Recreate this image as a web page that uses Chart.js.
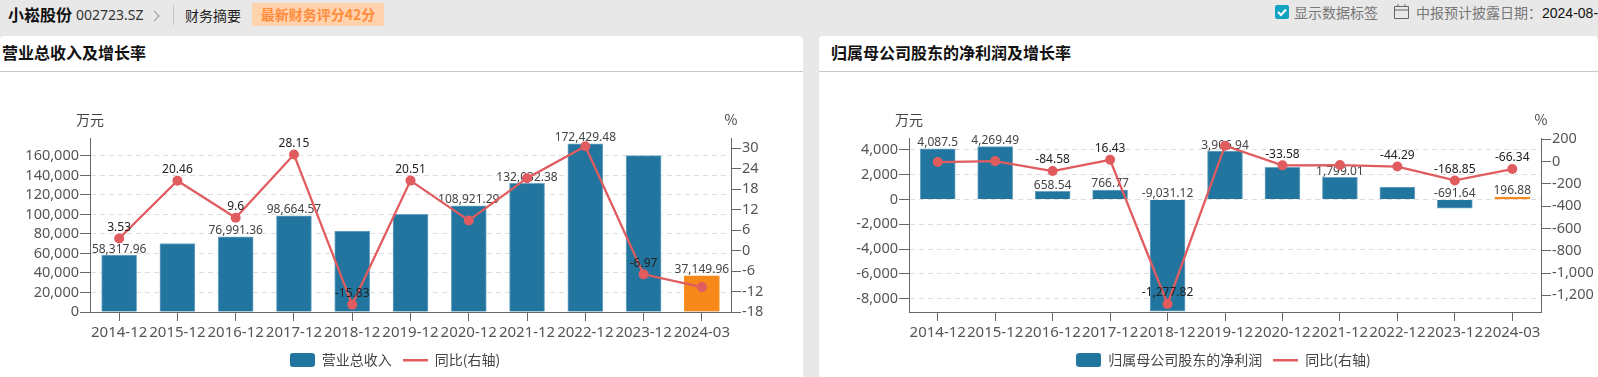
<!DOCTYPE html>
<html lang="zh">
<head>
<meta charset="utf-8">
<title>财务摘要</title>
<script src="https://cdn.jsdelivr.net/npm/chart.js@4/dist/chart.umd.min.js"></script>
<style>
html, body { margin: 0; padding: 0; width: 1598px; height: 377px; overflow: hidden; background: #e8e8e8; }
body { font-family: "Noto Sans CJK SC", "Noto Sans", sans-serif; position: relative; color: #333; }
.abs { position: absolute; white-space: nowrap; line-height: 20px; }
.card { position: absolute; top: 36px; height: 341px; background: #fff; border-radius: 4px 4px 0 0; }
.card .head { position: absolute; left: 0; right: 0; top: 0; height: 35px; border-bottom: 1px solid #c8c8c8; }
.card .title { position: absolute; top: 5px; font-size: 16px; font-weight: bold; color: #111; line-height: 22px; white-space: nowrap; }
canvas { position: absolute; top: 72px; }
</style>
</head>
<body>
<div class="abs" style="left:8px;top:4px;font-size:16px;font-weight:bold;color:#111">小崧股份</div>
<div class="abs" style="left:76px;top:5px;font-size:14px;font-family:'Noto Sans';color:#333">002723.SZ</div>
<svg class="abs" style="left:153px;top:10px" width="8" height="12"><path d="M1 1 L6 6 L1 11" fill="none" stroke="#aaa" stroke-width="1.3"/></svg>
<div class="abs" style="left:173px;top:5px;width:1px;height:20px;background:#c4c4c4"></div>
<div class="abs" style="left:185px;top:5px;font-size:14px;color:#222">财务摘要</div>
<div class="abs" style="left:252px;top:3px;width:132px;height:23px;line-height:23px;background:#ffd3ae;color:#ff8c3c;font-size:14px;font-weight:bold;text-align:center">最新财务评分42分</div>
<svg class="abs" style="left:1275px;top:5px" width="14" height="14"><rect width="14" height="14" rx="2" fill="#12a3c2"/><path d="M3 7 L6 10 L11 4.5" fill="none" stroke="#fff" stroke-width="2"/></svg>
<div class="abs" style="left:1294px;top:2px;font-size:14px;color:#777">显示数据标签</div>
<svg class="abs" style="left:1394px;top:4px" width="15" height="15"><path d="M0.5 2.5 H14.5 V14.5 H0.5 Z M0.5 6 H14.5" fill="none" stroke="#666"/><path d="M4 0 V3 M11 0 V3" stroke="#666"/></svg>
<div class="abs" style="left:1416px;top:2px;font-size:14px;color:#777">中报预计披露日期：</div>
<div class="abs" style="left:1542px;top:3px;font-size:14px;font-family:'Liberation Sans';color:#111">2024-08-</div>

<div class="card" style="left:0;width:803px"><div class="head"></div><div class="title" style="left:2px">营业总收入及增长率</div></div>
<div class="card" style="left:819px;width:779px"><div class="head"></div><div class="title" style="left:12px">归属母公司股东的净利润及增长率</div></div>

<canvas id="revenueChart" style="left:0;width:790px;height:305px"></canvas>
<canvas id="profitChart" style="left:849px;width:749px;height:305px"></canvas>

<script>
const categories = ['2014-12', '2015-12', '2016-12', '2017-12', '2018-12', '2019-12', '2020-12', '2021-12', '2022-12', '2023-12', '2024-03'];

const revenueValues = [58317.96, 70246, 76991.36, 98664.57, 83045, 100078, 108921.29, 132032.38, 172429.48, 160411, 37149.96];
const revenueGrowth = [3.53, 20.46, 9.6, 28.15, -15.83, 20.51, 8.84, 21.22, 30.6, -6.97, -10.7];
const revenueTicks = [0, 20000, 40000, 60000, 80000, 100000, 120000, 140000, 160000];
const revenueGrowthTicks = [-18, -12, -6, 0, 6, 12, 18, 24, 30];
// etiquetas que el original deja visibles (las demas las oculta por solape)
const revenueBarLabels = [0, 2, 3, 6, 7, 8, 10];
const revenueLineLabels = [0, 1, 2, 3, 4, 5, 9];

const profitValues = [4087.5, 4269.49, 658.54, 766.77, -9031.12, 3906.94, 2595, 1799.01, 1002, -691.64, 196.88];
const profitGrowth = [-4, 4.45, -84.58, 16.43, -1277.82, 143, -33.58, -31, -44.29, -168.85, -66.34];
const profitTicks = [-8000, -6000, -4000, -2000, 0, 2000, 4000];
const profitGrowthTicks = [-1200, -1000, -800, -600, -400, -200, 0, 200];
const profitBarLabels = [0, 1, 2, 3, 4, 5, 7, 9, 10];
const profitLineLabels = [2, 3, 4, 6, 8, 9, 10];

const BLUE = '#21759f';
const ORANGE = '#f7891a';
const RED = '#e05c5f';
const FONT = '"Noto Sans", "Noto Sans CJK SC", sans-serif';

function formatNumber(v) {
    return v.toLocaleString('en-US', { maximumFractionDigits: 2 });
}

// muestra de leyenda: el punto de la leyenda acepta un canvas
function legendSwatch(kind) {
    const c = document.createElement('canvas');
    c.width = 25;
    c.height = 14;
    const g = c.getContext('2d');
    if (kind === 'bar') {
        g.fillStyle = BLUE;
        g.beginPath();
        g.roundRect(0, 0, 25, 14, 3);
        g.fill();
    } else {
        g.fillStyle = RED;
        g.fillRect(0, 6, 25, 2.5);
    }
    return c;
}

function makeChart(id, cfg) {
    const labelsPlugin = {
        id: 'valueLabels',
        afterDatasetDraw(chart, args) {
            const ctx = chart.ctx;
            const shown = args.index === 0 ? cfg.barLabels : cfg.lineLabels;
            const data = chart.data.datasets[args.index].data;
            const meta = chart.getDatasetMeta(args.index);
            ctx.save();
            ctx.font = '12px ' + FONT;
            ctx.fillStyle = args.index === 0 ? '#444' : '#222';
            ctx.textAlign = 'center';
            ctx.textBaseline = 'middle';
            shown.forEach(i => {
                const el = meta.data[i];
                let y = el.y - 11;
                if (args.index === 0) {
                    y = Math.min(el.y, el.base) - 6;
                }
                ctx.fillText(formatNumber(data[i]), el.x, y);
            });
            ctx.restore();
        }
    };

    const unitsPlugin = {
        id: 'unitTitles',
        afterDraw(chart) {
            const ctx = chart.ctx;
            ctx.save();
            ctx.font = '14px "Noto Sans CJK SC"';
            ctx.fillStyle = '#444';
            ctx.textBaseline = 'middle';
            ctx.textAlign = 'center';
            ctx.fillText('万元', chart.chartArea.left, chart.chartArea.top - 18);
            ctx.fillText('%', chart.chartArea.right, chart.chartArea.top - 18);
            ctx.restore();
        }
    };

    return new Chart(document.getElementById(id), {
        type: 'bar',
        data: {
            labels: categories,
            datasets: [
                {
                    type: 'bar',
                    label: cfg.barName,
                    data: cfg.bars,
                    yAxisID: 'y',
                    order: 2,
                    barThickness: 35,
                    backgroundColor: c => c.dataIndex === categories.length - 1 ? ORANGE : BLUE,
                    borderColor: c => c.dataIndex === categories.length - 1 ? ORANGE : '#6fa6c4',
                    borderWidth: 1
                },
                {
                    type: 'line',
                    label: '同比(右轴)',
                    data: cfg.line,
                    yAxisID: 'y1',
                    order: 1,
                    borderColor: RED,
                    backgroundColor: RED,
                    borderWidth: 2.3,
                    tension: 0,
                    pointRadius: 5,
                    pointBackgroundColor: RED,
                    pointBorderWidth: 0,
                    pointStyle: 'circle'
                }
            ]
        },
        options: {
            responsive: false,
            animation: false,
            layout: { padding: { top: 66, bottom: 0, left: 0, right: 0 } },
            scales: {
                x: {
                    offset: true,
                    grid: { offset: false, drawOnChartArea: false, tickLength: 9, tickColor: '#666' },
                    border: { color: '#666' },
                    ticks: { font: { size: 15, family: FONT }, color: '#555', padding: 3, maxRotation: 0, autoSkip: false },
                    afterFit(scale) { scale.height = 30; }
                },
                y: {
                    position: 'left',
                    min: cfg.yMin,
                    max: cfg.yMax,
                    grid: { color: '#ddd', tickLength: 10, tickColor: '#666' },
                    border: { color: '#666', dash: [5, 4] },
                    ticks: { font: { size: 14.5, family: FONT }, color: '#555', padding: 1, callback: formatNumber },
                    afterBuildTicks(scale) { scale.ticks = cfg.yTicks.map(v => ({ value: v })); },
                    afterFit(scale) { scale.width = cfg.leftWidth; }
                },
                y1: {
                    position: 'right',
                    min: cfg.y1Min,
                    max: cfg.y1Max,
                    grid: { drawOnChartArea: false, tickLength: 10, tickColor: '#666' },
                    border: { color: '#666' },
                    ticks: { font: { size: 14.5, family: FONT }, color: '#555', padding: 1, callback: formatNumber },
                    afterBuildTicks(scale) { scale.ticks = cfg.y1Ticks.map(v => ({ value: v })); },
                    afterFit(scale) { scale.width = cfg.rightWidth; }
                }
            },
            plugins: {
                tooltip: { enabled: false },
                legend: {
                    position: 'bottom',
                    labels: {
                        usePointStyle: true,
                        pointStyleWidth: 25,
                        boxHeight: 14,
                        padding: 11,
                        color: '#444',
                        font: { size: 14, family: '"Noto Sans CJK SC"' },
                        generateLabels(chart) {
                            return chart.data.datasets.map((d, i) => ({
                                text: d.label,
                                datasetIndex: i,
                                pointStyle: i === 0 ? legendSwatch('bar') : legendSwatch('line'),
                                fontColor: '#444',
                                lineWidth: 0
                            }));
                        }
                    }
                }
            }
        },
        plugins: [labelsPlugin, unitsPlugin]
    });
}

makeChart('revenueChart', {
    barName: '营业总收入',
    bars: revenueValues,
    line: revenueGrowth,
    barLabels: revenueBarLabels,
    lineLabels: revenueLineLabels,
    yTicks: revenueTicks,
    y1Ticks: revenueGrowthTicks,
    yMin: 0, yMax: 178400,
    y1Min: -18, y1Max: 33,
    leftWidth: 90,
    rightWidth: 59
});

makeChart('profitChart', {
    barName: '归属母公司股东的净利润',
    bars: profitValues,
    line: profitGrowth,
    barLabels: profitBarLabels,
    lineLabels: profitLineLabels,
    yTicks: profitTicks,
    y1Ticks: profitGrowthTicks,
    yMin: -9089, yMax: 4968,
    y1Min: -1350, y1Max: 212,
    leftWidth: 60,
    rightWidth: 57
});
</script>
</body>
</html>
